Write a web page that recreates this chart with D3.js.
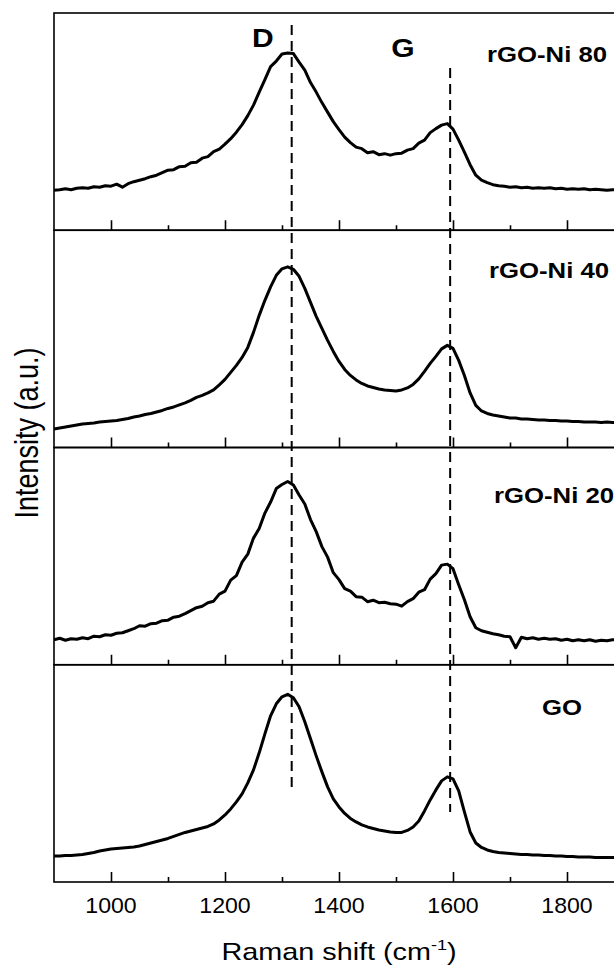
<!DOCTYPE html>
<html lang="en">
<head>
<meta charset="utf-8">
<title>Raman spectra</title>
<script src="https://cdn.jsdelivr.net/npm/d3@7"></script>
<style>
  body { margin: 0; background: #fff; }
  svg { display: block; font-family: "Liberation Sans", Arial, sans-serif; }
  .frame { fill: none; stroke: #000; stroke-width: 1.6; }
  .tick line { stroke: #000; stroke-width: 1.6; }
  .domain { display: none; }
  .trace { fill: none; stroke: #000; stroke-width: 3; stroke-linejoin: round; }
  .guide { stroke: #000; stroke-width: 2; stroke-dasharray: 10,6; }
</style>
</head>
<body>
<div id="chart"></div>
<script>
// Raman shift grid (cm-1), 900..1890 every 10
var shift = d3.range(900, 1900, 10);

// intensities (a.u.)
var rgo80 = [40,40.5,41.5,40.5,42,42.5,42,43.5,43,44.5,44,46,43,46.5,48.5,50,51.5,53.5,55,57.5,
  60,60.5,63.5,64,67.5,68,72,73.5,78.5,81,86,91.5,98,105.5,114.5,125,138,150.5,163.5,169,
  176,177,176.5,168,160,147.5,138,127.5,118,108.5,100.5,93,87.5,83,81.5,77.5,78.5,75.5,76.5,75,
  76.5,77,80,81.5,87,90,97.5,101.5,105,106.5,101,90,78,65.5,55,50,47.5,45.5,44.5,44,
  43,43.5,42.5,43,42,42.5,42,42.5,41.5,42,41,41.5,41,41.5,40.5,41,40.5,40,40.5,40];

var rgo40 = [18.5,19.5,20.5,21.5,22.5,23.5,24,24.5,25.5,26,26.5,27,28,29,30.5,31.5,33,34,35.5,37,
  39,40.5,42.5,44.5,47,50,52,54.5,57.5,62.5,68,75,82,90,100,115,132,147,160.5,172,
  178.5,180.5,178,171,159,145,131,119,107,96,86,78,72,67.5,64,61.5,60,58.5,57.5,57,
  56.5,57.5,59.5,63,68.5,76,84,91,98.5,102,99,87,72,54.5,42,36.5,34,32.5,31.5,30.5,
  29.5,29.5,28.5,28.5,28,27.5,27.5,27,27,26.5,26.5,26,26,25.5,25.5,25.5,25,25.5,25,25];

var rgo20 = [25,26.5,24.5,26,25.5,27,26,28.5,28,30,29.5,31.5,32,34,36,39,38.5,41,41.5,44,
  44.5,47.5,48.5,51,54,57,58.5,62,63.5,70.5,73.5,84.5,89,102.5,110.5,126.5,136,151.5,162.5,176,
  180,183,179.5,169.5,160.5,145,133,118,107.5,92,85,76,73.5,68,67.5,63,64.5,62,62.5,61,
  60.5,58.5,63,66,72.5,75,85.5,91,99.5,100.5,96,80,65,48,37,34,32.5,31,30,28.5,
  28,17,27.5,26,27,25.5,26.5,25.5,26,24.5,25.5,24,25,24,25,23.5,24.5,24,25,24.5];

var go = [26,26,26.5,26.5,27,27.5,28.5,29.5,31,32,33,33.5,34,34.5,35,36,37.5,39,40.5,42,
  43.5,45.5,47.5,49.5,51,52.5,54,55.5,58,62,67,73,80,88,99,112,129,148,166,178,
  185,187.5,184,175,160,143,126,110,95,83,75,68.5,63.5,60,57,55,53.5,52,51,50,
  49.5,49.5,51.5,55,61,71,82,92,101,105,103,91,70,50,39,34.5,32,30.5,29.5,29,
  28.5,28,27.5,27.5,27,27,26.5,26.5,26,26,25.5,25.5,25,25,25,24.5,24.5,24.5,24.5,24.5];

var seriesNames = ["rGO-Ni 80", "rGO-Ni 40", "rGO-Ni 20", "GO"];
var seriesValues = [rgo80, rgo40, rgo20, go];
var majorTicks = [1000, 1200, 1400, 1600, 1800];
var minorTicks = [1100, 1300, 1500, 1700, 1900];
var bandNames = ["D", "G"];
var bandShifts = [1317, 1595];

var W = 614, H = 966;
var marginLeft = 54, marginTop = 13, panelH = 217.25;

var svg = d3.select("#chart").append("svg")
    .attr("width", W).attr("height", H);

var x = d3.scaleLinear().domain([900, 1900]).range([marginLeft, marginLeft + 570]);
var y = d3.scaleLinear().domain([0, 217]).range([panelH, 0]);

var line = d3.line()
    .x(function(d, i) { return x(shift[i]); })
    .y(function(d) { return y(d); });

// stretched text helper (the original figure is wider than tall)
function label(g, txt, px, py, size, bold, anchor, sx) {
  return g.append("text")
      .attr("transform", "translate(" + px + "," + py + ") scale(" + (sx || 1.2) + ",1)")
      .attr("text-anchor", anchor || "start")
      .attr("font-size", size)
      .attr("font-weight", bold ? "bold" : "normal")
      .text(txt);
}

seriesValues.forEach(function(vals, k) {
  var g = svg.append("g")
      .attr("transform", "translate(0," + (marginTop + k * panelH) + ")");

  g.append("rect").attr("class", "frame")
      .attr("x", marginLeft).attr("y", 0)
      .attr("width", 570).attr("height", panelH);

  g.append("g")
      .attr("transform", "translate(0," + panelH + ")")
      .call(d3.axisBottom(x).tickValues(majorTicks).tickSize(-10).tickFormat(""));
  g.append("g")
      .attr("transform", "translate(0," + panelH + ")")
      .call(d3.axisBottom(x).tickValues(minorTicks).tickSize(-5).tickFormat(""));

  g.append("path").attr("class", "trace")
      .attr("d", line(vals));
});

// dashed band markers
svg.append("line").attr("class", "guide")
    .attr("x1", x(bandShifts[0])).attr("x2", x(bandShifts[0]))
    .attr("y1", 25).attr("y2", 793);
svg.append("line").attr("class", "guide")
    .attr("x1", x(bandShifts[1])).attr("x2", x(bandShifts[1]))
    .attr("y1", 68).attr("y2", 812);

label(svg, bandNames[0], 252, 47, 25, true);
label(svg, bandNames[1], 403, 57, 25, true, "middle");

var namePos = [[487, 62], [489, 278], [494, 503], [542, 715]];
seriesNames.forEach(function(n, k) {
  label(svg, n, namePos[k][0], namePos[k][1], 22, true, "start", 1.17);
});

// x tick labels
majorTicks.forEach(function(t) {
  label(svg, t, x(t), 913, 22, false, "middle", 1.05);
});

// axis titles
var xt = label(svg, "Raman shift (cm", 339, 960, 24, false, "middle");
xt.append("tspan").attr("dy", -10).attr("font-size", 15).text("-1");
xt.append("tspan").attr("dy", 10).text(")");

svg.append("text")
    .attr("transform", "translate(38,433) scale(1.2,1) rotate(-90)")
    .attr("text-anchor", "middle")
    .attr("font-size", 27)
    .text("Intensity (a.u.)");
</script>
</body>
</html>
